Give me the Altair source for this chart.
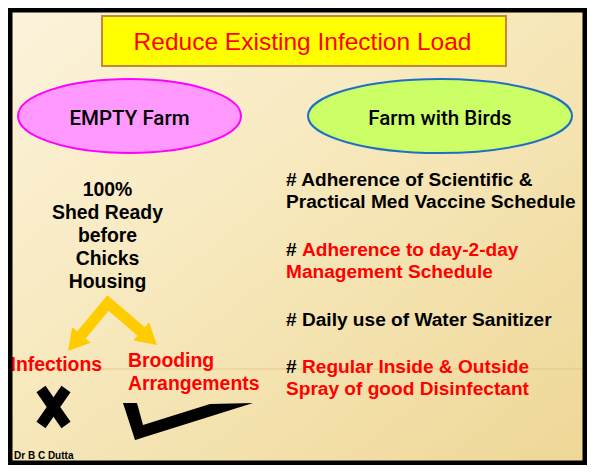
import altair as alt
import pandas as pd

# ---------------- content ----------------
title_text = ["Reduce Existing Infection Load"]
title_x = [302.5]
title_y = [49.5]

box_x, box_x2, box_y, box_y2 = [102], [506], [16], [66]

oval_labels = ["EMPTY Farm", "Farm with Birds"]
oval_cx = [129.5, 440]
oval_cy = [116, 116]
oval_rx = [111.5, 132]
oval_ry = [37, 37]
oval_fill = ["#FF99FF", "#CCFF66"]
oval_stroke = ["#FF00FF", "#1F6FC4"]

left_lines = ["100%", "Shed Ready", "before", "Chicks", "Housing"]
left_y = [196, 219, 242, 265, 288]
left_x = [107.5] * 5

red_labels = ["Infections", "Brooding", "Arrangements"]
red_x = [10.5, 128, 128]
red_y = [371, 367, 390]

right_lines = ["# Adherence of Scientific &", "Practical Med Vaccine Schedule",
               "#", "Adherence to day-2-day", "Management Schedule",
               "# Daily use of Water Sanitizer",
               "#", "Regular Inside & Outside", "Spray of good Disinfectant"]
right_x = [286, 286, 286, 302, 286, 286, 286, 302, 286]
right_y = [186, 208, 256, 256, 278, 326, 373, 373, 395]
right_col = ["#000000", "#000000", "#000000", "#FF0000", "#FF0000",
             "#000000", "#000000", "#FF0000", "#FF0000"]

footer = ["Dr B C Dutta"]
footer_x, footer_y = [14], [459]

# arrows (inverted V) : shaft path and heads
arrow_x = [74.7, 108, 149.1]
arrow_y = [343, 303, 338.2]
head_x = [74.7, 149.1]
head_y = [343, 338.2]
head_angle = [219.8, 130.5]

# cross mark
cross_seg = [0, 0, 1, 1]
cross_x = [41, 66, 66, 41]
cross_y = [389, 425, 389, 425]

# tick mark (filled region between top and bottom edges)
tick_x = [123, 135, 137, 143, 210, 253]
tick_top = [403, 403, 403, 425, 404, 403]
tick_bot = [403, 440, 439.4, 437.5, 416.5, 403]

divider_y = [369]

# ---------------- helpers ----------------
xs = alt.Scale(domain=[8, 587], nice=False, zero=False)
ys = alt.Scale(domain=[8, 465], nice=False, zero=False, reverse=True)


def X(f):
    return alt.X(f, type="quantitative", scale=xs, axis=None)


def Y(f):
    return alt.Y(f, type="quantitative", scale=ys, axis=None)


def ellipse_path(a):
    k = 0.5523
    return (f"M-1,0 C-1,{-k*a:.4f} {-k:.4f},{-a:.4f} 0,{-a:.4f} "
            f"C{k:.4f},{-a:.4f} 1,{-k*a:.4f} 1,0 "
            f"C1,{k*a:.4f} {k:.4f},{a:.4f} 0,{a:.4f} "
            f"C{-k:.4f},{a:.4f} -1,{k*a:.4f} -1,0 Z")


frame_df = pd.DataFrame({"x": [8], "x2": [587], "y": [8], "y2": [465]})

# ---------------- layers ----------------
bg = alt.Chart(frame_df).mark_rect(
    color=alt.LinearGradient(
        gradient="linear",
        stops=[alt.GradientStop(color="#FCF3DC", offset=0),
               alt.GradientStop(color="#F7E8BC", offset=0.45),
               alt.GradientStop(color="#EED796", offset=1)],
        x1=0, y1=0, x2=1, y2=1)
).encode(x=X("x"), x2=alt.X2("x2"), y=Y("y"), y2=alt.Y2("y2"))

divider = alt.Chart(pd.DataFrame({"y": divider_y, "x": [12], "x2": [583]})).mark_rule(
    color="#D9B46A", strokeWidth=1, opacity=0.5
).encode(x=X("x"), x2=alt.X2("x2"), y=Y("y"))

box = alt.Chart(pd.DataFrame({"x": box_x, "x2": box_x2, "y": box_y, "y2": box_y2})).mark_rect(
    fill="#FFFF00", stroke="#C08A3A", strokeWidth=2
).encode(x=X("x"), x2=alt.X2("x2"), y=Y("y"), y2=alt.Y2("y2"))

title = alt.Chart(pd.DataFrame({"x": title_x, "y": title_y, "t": title_text})).mark_text(
    font="Liberation Sans", fontSize=24.5, color="#FF0000", align="center", baseline="alphabetic"
).encode(x=X("x"), y=Y("y"), text="t:N")

ovals = []
for i in range(2):
    d = pd.DataFrame({"x": [oval_cx[i]], "y": [oval_cy[i]]})
    ovals.append(alt.Chart(d).mark_point(
        shape=ellipse_path(oval_ry[i] / oval_rx[i]), size=(2 * oval_rx[i]) ** 2,
        filled=True, fill=oval_fill[i], stroke=oval_stroke[i], strokeWidth=2, opacity=1
    ).encode(x=X("x"), y=Y("y")))

oval_text = alt.Chart(pd.DataFrame({"x": oval_cx, "y": [125, 125], "t": oval_labels})).mark_text(
    font="Roboto", fontSize=20.5, fontWeight=500, color="#000000", align="center", baseline="alphabetic"
).encode(x=X("x"), y=Y("y"), text="t:N")

left_text = alt.Chart(pd.DataFrame({"x": left_x, "y": left_y, "t": left_lines})).mark_text(
    font="Liberation Sans", fontSize=19.4, fontWeight="bold", color="#000000",
    align="center", baseline="alphabetic"
).encode(x=X("x"), y=Y("y"), text="t:N")

red_text = alt.Chart(pd.DataFrame({"x": red_x, "y": red_y, "t": red_labels})).mark_text(
    font="Liberation Sans", fontSize=19.4, fontWeight="bold", color="#FF0000",
    align="left", baseline="alphabetic"
).encode(x=X("x"), y=Y("y"), text="t:N")

right_text = alt.Chart(pd.DataFrame({"x": right_x, "y": right_y, "t": right_lines, "c": right_col})).mark_text(
    font="Liberation Sans", fontSize=19.1, fontWeight="bold", align="left", baseline="alphabetic"
).encode(x=X("x"), y=Y("y"), text="t:N", color=alt.Color("c:N", scale=None))

foot = alt.Chart(pd.DataFrame({"x": footer_x, "y": footer_y, "t": footer})).mark_text(
    font="Liberation Sans", fontSize=10, fontWeight="bold", color="#000000",
    align="left", baseline="alphabetic"
).encode(x=X("x"), y=Y("y"), text="t:N")

arrow_line = alt.Chart(pd.DataFrame({"x": arrow_x, "y": arrow_y, "o": [0, 1, 2]})).mark_line(
    color="#FFCC00", strokeWidth=11, strokeJoin="miter", strokeCap="butt"
).encode(x=X("x"), y=Y("y"), order="o:Q")

arrow_heads = alt.Chart(pd.DataFrame({"x": head_x, "y": head_y, "a": head_angle})).mark_point(
    shape="triangle-up", size=576, filled=True, color="#FFCC00", opacity=1
).encode(x=X("x"), y=Y("y"), angle=alt.Angle("a:Q", scale=None))

cross = alt.Chart(pd.DataFrame({"x": cross_x, "y": cross_y, "s": cross_seg,
                                "o": [0, 1, 0, 1]})).mark_line(
    color="#000000", strokeWidth=11, strokeCap="butt"
).encode(x=X("x"), y=Y("y"), detail="s:N", order="o:Q")

tick = alt.Chart(pd.DataFrame({"x": tick_x, "y": tick_top, "y2": tick_bot})).mark_area(
    color="#000000", opacity=1
).encode(x=X("x"), y=Y("y"), y2=alt.Y2("y2"))

frame = alt.Chart(frame_df).mark_rect(
    fill=None, fillOpacity=0, stroke="#000000", strokeWidth=9
).encode(x=X("x"), x2=alt.X2("x2"), y=Y("y"), y2=alt.Y2("y2"))

chart = alt.layer(
    bg, divider, box, title, *ovals, oval_text, left_text, arrow_line, arrow_heads,
    red_text, right_text, cross, tick, foot, frame
).properties(
    width=579, height=457, padding=0, autosize=alt.AutoSizeParams(type="none")
).configure_view(stroke=None)

chart.save("out.html", embed_options={"renderer": "svg", "actions": False})
